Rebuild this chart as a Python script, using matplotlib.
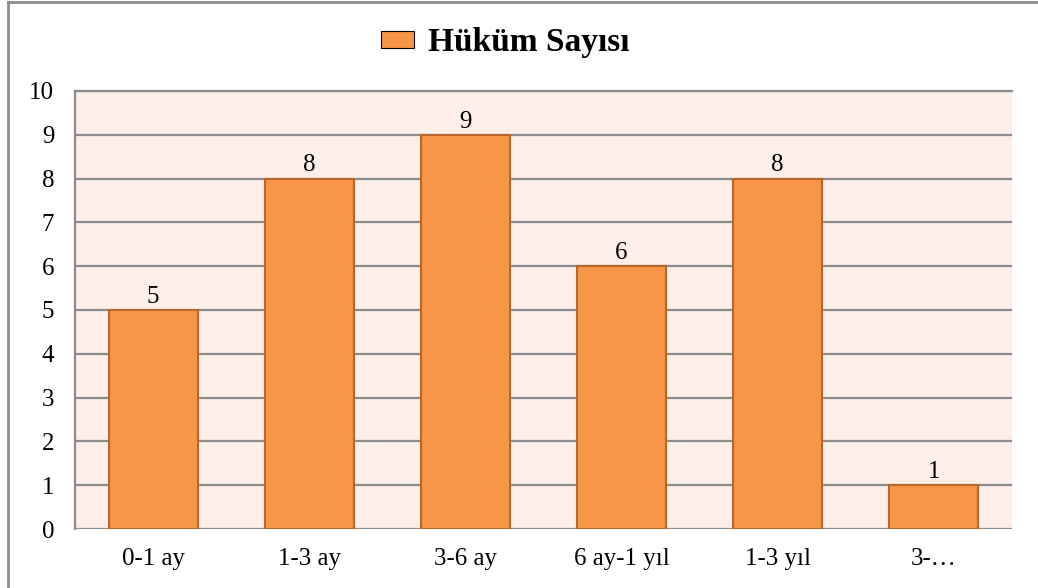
import matplotlib.pyplot as plt
from matplotlib.patches import Patch
from matplotlib.lines import Line2D

categories = ['0-1 ay', '1-3 ay', '3-6 ay', '6 ay-1 yıl', '1-3 yıl', '3-…']
counts = [5, 8, 9, 6, 8, 1]
series_name = 'Hüküm Sayısı'

bar_color = '#F79646'
edge_color = '#B8672A'
grid_color = '#8C8C8C'

plt.rcParams['font.family'] = ['Liberation Serif', 'DejaVu Serif']

fig = plt.figure(figsize=(10.38, 5.88), dpi=100)
ax = fig.add_axes([75 / 1038, 1 - 529 / 588, (1012 - 75) / 1038, (529 - 91) / 588])
ax.set_facecolor('#FDEEEA')

x = range(len(categories))
bars = ax.bar(x, counts, width=0.57, color=bar_color, edgecolor=edge_color,
              linewidth=1.5, zorder=3)
for b, v in zip(bars, counts):
    ax.text(b.get_x() + b.get_width() / 2, v + 0.05, str(v), ha='center',
            va='bottom', fontsize=18, zorder=4)

ax.set_xlim(-0.5, len(categories) - 0.5)
ax.set_ylim(0, 10)
ax.set_yticks(range(0, 11))
ax.set_xticks(list(x))
ax.set_xticklabels(categories)
ax.tick_params(axis='both', length=0, labelsize=18)
ax.tick_params(axis='x', pad=14)
ax.tick_params(axis='y', pad=15)
ax.grid(axis='y', color=grid_color, linewidth=1.6, zorder=1)
for s in ['right', 'bottom']:
    ax.spines[s].set_visible(False)
for s in ['left', 'top']:
    ax.spines[s].set_color(grid_color)
    ax.spines[s].set_linewidth(1.6)

handle = Patch(facecolor=bar_color, edgecolor='black', linewidth=0.8)
fig.legend([handle], [series_name], loc='center', bbox_to_anchor=(505 / 1038, 1 - 43 / 588),
           frameon=False, prop={'weight': 'bold', 'size': 24}, handlelength=1.0,
           handleheight=0.4, handletextpad=0.4)

# outer frame: only left and top edges are visible in the reference
fig.add_artist(Line2D([8 / 1038, 8 / 1038], [0, 1 - 1.5 / 588], transform=fig.transFigure,
                      color=grid_color, linewidth=2))
fig.add_artist(Line2D([8 / 1038, 1], [1 - 1.5 / 588, 1 - 1.5 / 588], transform=fig.transFigure,
                      color=grid_color, linewidth=2))

fig.savefig('out.png', dpi=100)
